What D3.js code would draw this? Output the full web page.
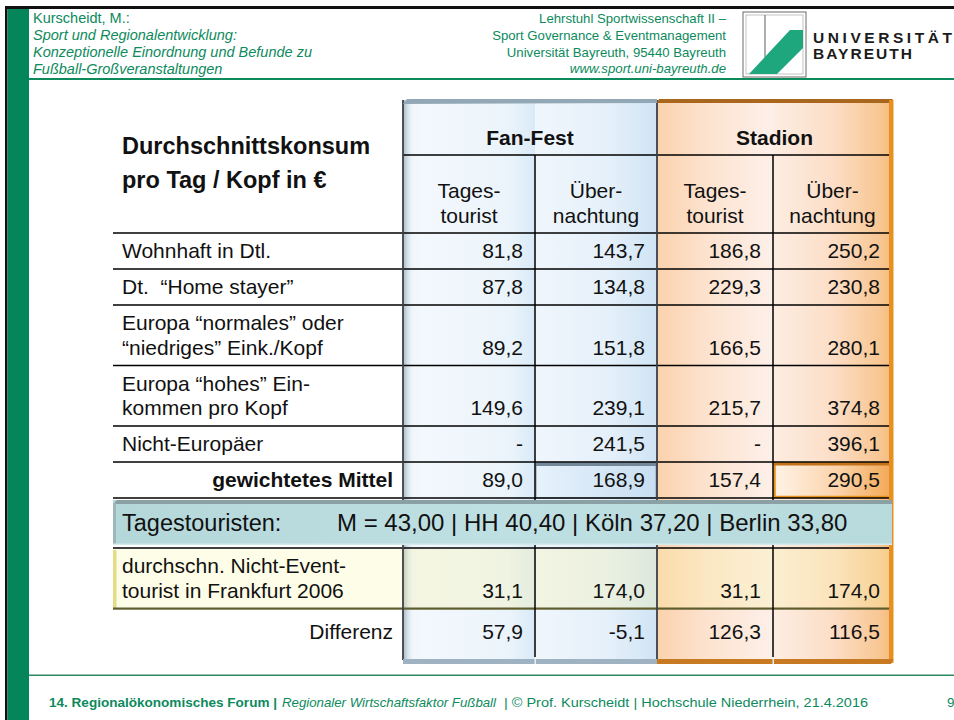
<!DOCTYPE html>
<html>
<head>
<meta charset="utf-8">
<script src="https://cdn.jsdelivr.net/npm/d3@7"></script>
<style>
  body { margin: 0; background: #fff; }
  svg { display: block; font-family: "Liberation Sans", Arial, sans-serif; }
</style>
</head>
<body>
<div id="container"></div>
<script>
/* DATA */
const headerLeft = ["Kurscheidt, M.:", "Sport und Regionalentwicklung:", "Konzeptionelle Einordnung und Befunde zu", "Fußball-Großveranstaltungen"];
const headerRight = ["Lehrstuhl Sportwissenschaft II –", "Sport Governance & Eventmanagement", "Universität Bayreuth, 95440 Bayreuth", "www.sport.uni-bayreuth.de"];
const uniName = ["UNIVERSITÄT", "BAYREUTH"];
const footerParts = ["14. Regionalökonomisches Forum |", "Regionaler Wirtschaftsfaktor Fußball", "| © Prof. Kurscheidt | Hochschule Niederrhein, 21.4.2016"];
const pageNo = "9";

const titleLines = ["Durchschnittskonsum", "pro Tag / Kopf in €"];
const groups = ["Fan-Fest", "Stadion"];
const subHeaders = [["Tages-", "tourist"], ["Über-", "nachtung"], ["Tages-", "tourist"], ["Über-", "nachtung"]];
const rowLabels = [
  ["Wohnhaft in Dtl."],
  ["Dt.  “Home stayer”"],
  ["Europa “normales” oder", "“niedriges” Eink./Kopf"],
  ["Europa “hohes” Ein-", "kommen pro Kopf"],
  ["Nicht-Europäer"],
  ["gewichtetes Mittel"]
];
const fanTages  = [81.8, 87.8, 89.2, 149.6, null, 89.0];
const fanUeber  = [143.7, 134.8, 151.8, 239.1, 241.5, 168.9];
const stadTages = [186.8, 229.3, 166.5, 215.7, null, 157.4];
const stadUeber = [250.2, 230.8, 280.1, 374.8, 396.1, 290.5];

const bannerLabel = "Tagestouristen:";
const cities = ["M", "HH", "Köln", "Berlin"];
const cityValues = [43.00, 40.40, 37.20, 33.80];

const nonEventLabel = ["durchschn. Nicht-Event-", "tourist in Frankfurt 2006"];
const nonEventValues = [31.1, 174.0, 31.1, 174.0];
const diffLabel = "Differenz";
const diffValues = [57.9, -5.1, 126.3, 116.5];

/* CONSTANTS */
const width = 954, height = 720;
const green = "#0c8a5c";
const tableLeft = 113;
const valueCols = [fanTages, fanUeber, stadTages, stadUeber];

const de = d3.formatLocale({ decimal: ",", thousands: ".", grouping: [3], currency: ["", " €"], minus: "-" });
const f1 = v => v == null ? "-" : de.format(".1f")(v);
const f2 = de.format(".2f");

const svg = d3.select("#container")
  .append("svg")
  .attr("width", width)
  .attr("height", height);

const defs = svg.append("defs");
function grad(id, stops, vertical) {
  const g = defs.append("linearGradient").attr("id", id)
    .attr("x1", 0).attr("y1", 0)
    .attr("x2", vertical ? 0 : 1).attr("y2", vertical ? 1 : 0);
  stops.forEach(s => g.append("stop").attr("offset", s[0]).attr("stop-color", s[1]).attr("stop-opacity", s[2] == null ? 1 : s[2]));
}
grad("col0", [[0, "#edf4fb"], [0.15, "#f3f8fd"], [0.8, "#ebf4fb"], [1, "#d9eaf7"]]);
grad("col1", [[0, "#f0f6fc"], [0.6, "#e5f0fa"], [1, "#d0e4f4"]]);
grad("col2", [[0, "#fbd2ad"], [0.45, "#fde3d0"], [1, "#fdf0e9"]]);
grad("col3", [[0, "#fdede2"], [0.5, "#fcdec7"], [0.9, "#f8c692"], [1, "#f6bb7c"]]);
grad("hi1", [[0, "#e6f2fb"], [1, "#c8def2"]]);
grad("hi2", [[0, "#fff3e7"], [0.55, "#fbd3aa"], [1, "#f3a957"]]);
grad("leftShade", [[0, "#a9bac7", 0.9], [1, "#dbe7f1", 0]]);
grad("banner", [[0, "#b4d7da"], [0.5, "#bfe0e3"], [1, "#b7dadd"]]);

/* SCALES */
const x = d3.scaleLinear()
  .domain([0, 1, 2, 3, 4])
  .range([403, 535, 657, 773, 892]);

const rowH = rowLabels.map(l => l.length === 1 ? 36 : 60.5);
const rowEdges = [233, ...Array.from(d3.cumsum(rowH), v => 233 + v)];
const y = d3.scaleLinear()
  .domain(d3.range(rowEdges.length))
  .range(rowEdges);

const panelTop = 100, panelBottom = 660;
const bannerTop = 500, bannerBottom = 545;
const yellowTop = 549, yellowBottom = 608;
const diffTop = 609, diffBottom = 655;

/* FRAME */
svg.append("rect").attr("x", 5).attr("y", 6).attr("width", width - 5).attr("height", 3).attr("fill", "#111");
svg.append("rect").attr("x", 5).attr("y", 6).attr("width", 2.5).attr("height", height).attr("fill", "#111");
svg.append("rect").attr("x", 7.5).attr("y", 9).attr("width", 21.5).attr("height", height).attr("fill", "#05855a");
svg.append("rect").attr("x", 29).attr("y", 78).attr("width", width - 29).attr("height", 2).attr("fill", green);
svg.append("rect").attr("x", 29).attr("y", 674.5).attr("width", width - 29).attr("height", 1.5).attr("fill", "#2b8a5f");

svg.append("g").selectAll("text")
  .data(headerLeft)
  .join("text")
  .attr("x", 33)
  .attr("y", (d, i) => 22.5 + i * 17.2)
  .attr("font-size", 14.5)
  .attr("font-style", (d, i) => i === 0 ? "normal" : "italic")
  .attr("fill", green)
  .text(d => d);

svg.append("g").selectAll("text")
  .data(headerRight)
  .join("text")
  .attr("x", 726)
  .attr("y", (d, i) => 23 + i * 16.8)
  .attr("text-anchor", "end")
  .attr("font-size", 13.2)
  .attr("font-style", (d, i) => i === 3 ? "italic" : "normal")
  .attr("fill", green)
  .text(d => d);

// logo
const logo = svg.append("g");
logo.append("rect").attr("x", 743).attr("y", 12).attr("width", 63).attr("height", 65)
  .attr("fill", "#fff").attr("stroke", "#6b6b6b").attr("stroke-width", 1);
logo.append("rect").attr("x", 746).attr("y", 15).attr("width", 57).attr("height", 59)
  .attr("fill", "none").attr("stroke", "#b5b5b5").attr("stroke-width", 0.8);
logo.append("line").attr("x1", 765).attr("x2", 765).attr("y1", 15).attr("y2", 57)
  .attr("stroke", "#777").attr("stroke-width", 1.2);
logo.append("polygon")
  .attr("points", "749,74 790,30 803,30 803,48 777,74")
  .attr("fill", "#1ea77c");

svg.append("g").selectAll("text")
  .data(uniName)
  .join("text")
  .attr("x", 813)
  .attr("y", (d, i) => 42.5 + i * 16.5)
  .attr("font-size", 15.5)
  .attr("font-weight", "bold")
  .attr("fill", "#1b1b1b")
  .attr("textLength", (d, i) => i === 0 ? 139 : 99)
  .attr("lengthAdjust", "spacing")
  .text(d => d);

const footerX = [49, 282, 504];
const footerLen = [228, 214, 364];
svg.append("g").selectAll("text")
  .data(footerParts)
  .join("text")
  .attr("x", (d, i) => footerX[i])
  .attr("y", 707)
  .attr("font-size", 13.5)
  .attr("fill", green)
  .attr("font-weight", (d, i) => i === 0 ? "bold" : "normal")
  .attr("font-style", (d, i) => i === 1 ? "italic" : "normal")
  .attr("textLength", (d, i) => footerLen[i])
  .attr("lengthAdjust", "spacingAndGlyphs")
  .text(d => d);
svg.append("text").attr("x", 947).attr("y", 707).attr("font-size", 13.5).attr("fill", green).text(pageNo);

/* PANELS */
const table = svg.append("g");
table.selectAll(".colbg")
  .data(valueCols)
  .join("rect")
  .attr("class", "colbg")
  .attr("x", (d, i) => x(i))
  .attr("y", panelTop)
  .attr("width", (d, i) => x(i + 1) - x(i))
  .attr("height", panelBottom - panelTop)
  .attr("fill", (d, i) => `url(#col${i})`);

table.append("rect").attr("x", x(0) + 1).attr("y", panelTop).attr("width", 9).attr("height", panelBottom - panelTop)
  .attr("fill", "url(#leftShade)");

// yellow row
table.append("rect").attr("x", tableLeft).attr("y", yellowTop).attr("width", x(0) - tableLeft).attr("height", yellowBottom - yellowTop)
  .attr("fill", "#fefde7");
table.append("rect").attr("x", x(0)).attr("y", yellowTop).attr("width", x(4) - x(0)).attr("height", yellowBottom - yellowTop)
  .attr("fill", "#f7f3a6").attr("opacity", 0.3);
table.append("rect").attr("x", tableLeft).attr("y", yellowTop + 1).attr("width", 3.5).attr("height", yellowBottom - yellowTop - 1)
  .attr("fill", "#e2dd86");

// highlighted cells
const hiRow = rowLabels.length - 1;
table.append("rect").attr("x", x(1) + 1).attr("y", y(hiRow) + 1).attr("width", x(2) - x(1) - 2).attr("height", y(hiRow + 1) - y(hiRow) - 1)
  .attr("fill", "url(#hi1)").attr("stroke", "#9fb4c3").attr("stroke-width", 1.5);
table.append("rect").attr("x", x(1) + 1).attr("y", y(hiRow) + 0.5).attr("width", x(2) - x(1) - 2).attr("height", 3.5)
  .attr("fill", "#73899a");
table.append("rect").attr("x", x(3) + 1.5).attr("y", y(hiRow) + 1.5).attr("width", x(4) - x(3) - 3).attr("height", y(hiRow + 1) - y(hiRow) - 2.5)
  .attr("fill", "url(#hi2)").attr("stroke", "#e8911c").attr("stroke-width", 2.5);
table.append("rect").attr("x", x(3) + 1).attr("y", y(hiRow) + 0.5).attr("width", x(4) - x(3) - 2).attr("height", 3)
  .attr("fill", "#c2731a");

/* LINES */
const hLines = rowEdges.concat([bannerBottom + 3]);
table.selectAll(".hline")
  .data(hLines)
  .join("line")
  .attr("class", "hline")
  .attr("x1", tableLeft).attr("x2", x(4))
  .attr("y1", d => d).attr("y2", d => d)
  .attr("stroke", "#000").attr("stroke-width", 1.5);
table.append("line").attr("x1", x(0)).attr("x2", x(4)).attr("y1", 155).attr("y2", 155)
  .attr("stroke", "#000").attr("stroke-width", 1.5);
table.append("rect").attr("x", tableLeft).attr("y", yellowBottom - 0.5).attr("width", x(4) - tableLeft).attr("height", 2.2)
  .attr("fill", "#5f5d2e");

table.selectAll(".vline")
  .data([1, 3])
  .join("line")
  .attr("class", "vline")
  .attr("x1", d => x(d)).attr("x2", d => x(d))
  .attr("y1", 155).attr("y2", diffBottom + 2)
  .attr("stroke", "#000").attr("stroke-width", 1.5);
table.selectAll(".edge")
  .data([0, 2])
  .join("line")
  .attr("class", "edge")
  .attr("x1", d => x(d)).attr("x2", d => x(d))
  .attr("y1", panelTop).attr("y2", panelBottom)
  .attr("stroke", "#3a3f44").attr("stroke-width", 1.8);

// bevels
table.append("polygon")
  .attr("points", `${x(0)},${panelTop + 4} ${x(0) + 4},${panelTop - 1} ${x(2)},${panelTop - 1} ${x(2)},${panelTop + 3}`)
  .attr("fill", "#93a8b6");
table.append("polygon")
  .attr("points", `${x(2)},${panelTop + 3} ${x(2) + 2},${panelTop - 1} ${x(4) + 1},${panelTop - 1} ${x(4) - 2},${panelTop + 3}`)
  .attr("fill", "#a9661d");
table.append("rect").attr("x", x(4) - 3).attr("y", panelTop).attr("width", 4.5).attr("height", panelBottom - panelTop + 3)
  .attr("fill", "#e8901f");
table.append("rect").attr("x", x(0)).attr("y", panelBottom - 1).attr("width", x(2) - x(0)).attr("height", 5)
  .attr("fill", "#9fb2c1");
table.append("polygon")
  .attr("points", `${x(2)},${panelBottom - 1} ${x(4) + 1.5},${panelBottom - 1} ${x(4) - 1},${panelBottom + 4} ${x(2)},${panelBottom + 4}`)
  .attr("fill", "#c77a22");
table.selectAll(".gap")
  .data([1, 3])
  .join("rect")
  .attr("class", "gap")
  .attr("x", d => x(d) - 0.5).attr("y", panelBottom - 1).attr("width", 1.5).attr("height", 5)
  .attr("fill", "#e6eef4");

/* BANNER */
const banner = svg.append("g");
banner.append("rect").attr("x", tableLeft).attr("y", bannerTop).attr("width", x(4) - tableLeft).attr("height", bannerBottom - bannerTop)
  .attr("fill", "url(#banner)");
banner.append("polygon")
  .attr("points", `${tableLeft},${bannerTop + 4} ${tableLeft + 4},${bannerTop} ${x(4)},${bannerTop} ${x(4)},${bannerTop + 4}`)
  .attr("fill", "#8aa0a5");
banner.append("rect").attr("x", tableLeft).attr("y", bannerTop + 3).attr("width", 3).attr("height", bannerBottom - bannerTop - 3)
  .attr("fill", "#9db7ba");
banner.append("rect").attr("x", tableLeft).attr("y", bannerBottom - 1.5).attr("width", x(4) - tableLeft).attr("height", 1.5)
  .attr("fill", "#d4eaec");
banner.append("text")
  .attr("x", 122).attr("y", 531)
  .attr("font-size", 23.5)
  .attr("fill", "#111")
  .text(bannerLabel);
banner.append("text")
  .attr("x", 337).attr("y", 531)
  .attr("font-size", 24)
  .attr("fill", "#111")
  .text(cities.map((c, i) => (i === 0 ? c + " = " : c + " ") + f2(cityValues[i])).join(" | "));

/* TEXT */
const txt = svg.append("g").attr("fill", "#111");

txt.selectAll(".title")
  .data(titleLines)
  .join("text")
  .attr("class", "title")
  .attr("x", 122)
  .attr("y", (d, i) => 154 + i * 34)
  .attr("font-size", 23.5)
  .attr("font-weight", "bold")
  .text(d => d);

txt.selectAll(".group")
  .data(groups)
  .join("text")
  .attr("class", "group")
  .attr("x", (d, i) => (x(i * 2) + x(i * 2 + 2)) / 2)
  .attr("y", 145)
  .attr("text-anchor", "middle")
  .attr("font-size", 21)
  .attr("font-weight", "bold")
  .text(d => d);

subHeaders.forEach((lines, c) => {
  txt.selectAll(`.sub${c}`)
    .data(lines)
    .join("text")
    .attr("class", `sub${c}`)
    .attr("x", (x(c) + x(c + 1)) / 2)
    .attr("y", (d, k) => 198 + k * 25)
    .attr("text-anchor", "middle")
    .attr("font-size", 21)
    .text(d => d);
});

rowLabels.forEach((lines, r) => {
  const bold = r === rowLabels.length - 1;
  txt.selectAll(`.lab${r}`)
    .data(lines)
    .join("text")
    .attr("class", `lab${r}`)
    .attr("x", bold ? 393 : 122)
    .attr("y", (d, k) => y(r) + 25 + k * 24.5)
    .attr("text-anchor", bold ? "end" : "start")
    .attr("font-size", 21)
    .attr("font-weight", bold ? "bold" : "normal")
    .style("white-space", "pre")
    .text(d => d);
  txt.selectAll(`.val${r}`)
    .data(valueCols.map(col => col[r]))
    .join("text")
    .attr("class", `val${r}`)
    .attr("x", (d, c) => x(c + 1) - 12)
    .attr("y", y(r) + 25 + (lines.length - 1) * 24.5)
    .attr("text-anchor", "end")
    .attr("font-size", 21)
    .text(d => f1(d));
});

txt.selectAll(".nelab")
  .data(nonEventLabel)
  .join("text")
  .attr("class", "nelab")
  .attr("x", 122)
  .attr("y", (d, k) => yellowTop + 24 + k * 25)
  .attr("font-size", 21)
  .text(d => d);
txt.selectAll(".neval")
  .data(nonEventValues)
  .join("text")
  .attr("class", "neval")
  .attr("x", (d, c) => x(c + 1) - 12)
  .attr("y", yellowTop + 49)
  .attr("text-anchor", "end")
  .attr("font-size", 21)
  .text(d => f1(d));

txt.append("text")
  .attr("x", 393).attr("y", diffTop + 30)
  .attr("text-anchor", "end")
  .attr("font-size", 21)
  .text(diffLabel);
txt.selectAll(".diff")
  .data(diffValues)
  .join("text")
  .attr("class", "diff")
  .attr("x", (d, c) => x(c + 1) - 12)
  .attr("y", diffTop + 30)
  .attr("text-anchor", "end")
  .attr("font-size", 21)
  .text(d => f1(d));
</script>
</body>
</html>
